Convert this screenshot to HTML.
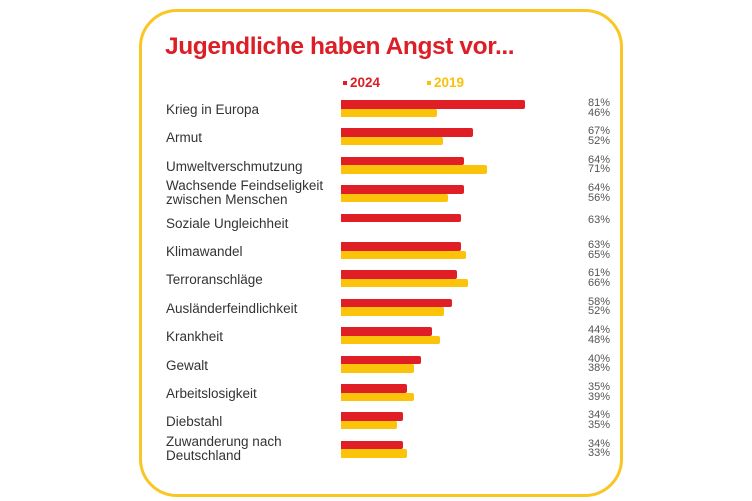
<!DOCTYPE html>
<html><head><meta charset="utf-8"><style>
body{margin:0;width:752px;height:501px;background:#fff;position:relative;overflow:hidden;font-family:"Liberation Sans",sans-serif}
.box{position:absolute;left:139px;top:9px;width:478px;height:482px;border:3px solid #f9c623;border-radius:38px}
.t{position:absolute;left:165px;top:33px;font-size:24.5px;font-weight:bold;color:#dc1f26;letter-spacing:-0.4px}
.lg{position:absolute;top:75px;font-size:13.5px;font-weight:bold}
.lab{position:absolute;left:166px;font-size:13.5px;color:#333;line-height:14px}
.b{position:absolute;left:341px;height:8.5px;border-radius:0 2px 2px 0}
.r{background:#e01e26}.y{background:#fcc30b}
.p{position:absolute;left:588px;font-size:11px;color:#555;line-height:9.5px}
</style></head><body>
<div class="box"></div>
<div class="t">Jugendliche haben Angst vor...</div>
<div class="lg" style="left:343px;color:#dc1f26"><span style="display:inline-block;width:4px;height:4px;background:#dc1f26;vertical-align:middle;margin-right:3px"></span>2024</div>
<div class="lg" style="left:427px;color:#f9c00c"><span style="display:inline-block;width:4px;height:4px;background:#f9c00c;vertical-align:middle;margin-right:3px"></span>2019</div>
<div id="c"></div>
<script>
var d=[["Krieg in Europa",525,437,"81%","46%"],["Armut",473,443,"67%","52%"],["Umweltverschmutzung",464,487,"64%","71%"],["Wachsende Feindseligkeit<br>zwischen Menschen",464,448,"64%","56%"],["Soziale Ungleichheit",461,0,"63%",""],["Klimawandel",461,466,"63%","65%"],["Terroranschläge",457,468,"61%","66%"],["Ausländerfeindlichkeit",452,444,"58%","52%"],["Krankheit",432,440,"44%","48%"],["Gewalt",421,414,"40%","38%"],["Arbeitslosigkeit",407,414,"35%","39%"],["Diebstahl",403,397,"34%","35%"],["Zuwanderung nach<br>Deutschland",403,407,"34%","33%"]];
var h="";
d.forEach(function(e,i){var r=100+28.4*i;var two=e[0].indexOf("<br>")>0;
h+='<div class="lab" style="top:'+(two?r-6:r+3)+'px">'+e[0]+'</div>';
h+='<div class="b r" style="top:'+r+'px;width:'+(e[1]-341)+'px"></div>';
if(e[2])h+='<div class="b y" style="top:'+(r+8.5)+'px;width:'+(e[2]-341)+'px"></div>';
if(e[4])h+='<div class="p" style="top:'+(r-1)+'px">'+e[3]+'<br>'+e[4]+'</div>';
else h+='<div class="p" style="top:'+(r+2)+'px">'+e[3]+'</div>';});
document.getElementById("c").innerHTML=h;
</script>
</body></html>
